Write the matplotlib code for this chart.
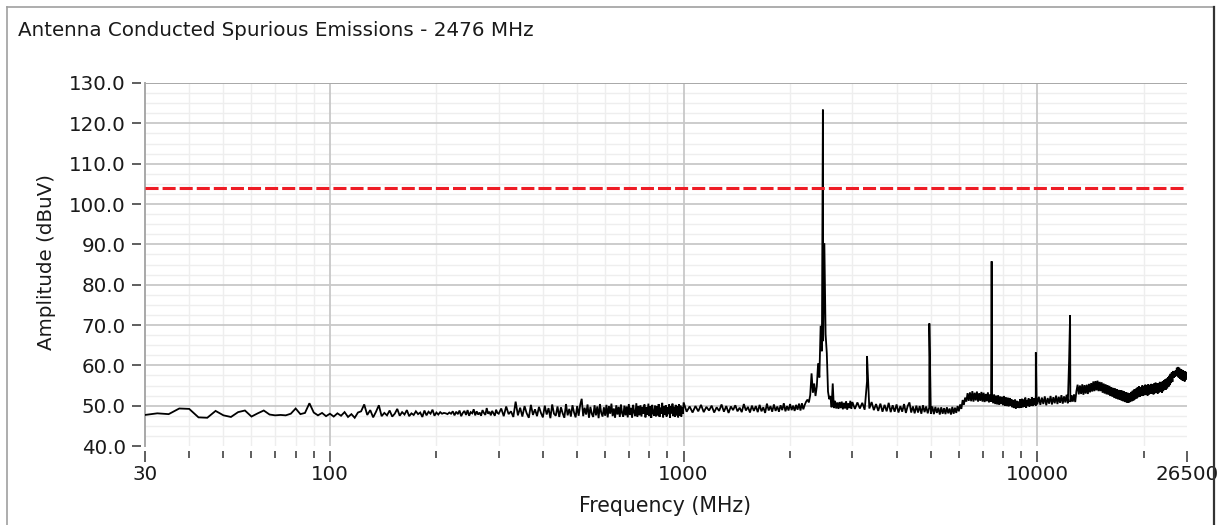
import numpy as np
import matplotlib
matplotlib.use("Agg")
import matplotlib.pyplot as plt
from matplotlib.lines import Line2D
from matplotlib.ticker import NullFormatter, NullLocator

# ---------------- text ----------------
title = "Antenna Conducted Spurious Emissions - 2476 MHz"
x_label = "Frequency (MHz)"
y_label = "Amplitude (dBuV)"
x_tick_values = [30, 100, 1000, 10000, 26500]
x_tick_labels = ["30", "100", "1000", "10000", "26500"]
y_tick_values = [40, 50, 60, 70, 80, 90, 100, 110, 120, 130]
y_tick_labels = ["40.0", "50.0", "60.0", "70.0", "80.0", "90.0", "100.0", "110.0", "120.0", "130.0"]

# limit line (dBuV)
limit_dbuv = 103.9

# ---------------- sweep data (dBuV) ----------------
# segment A1: 30 MHz upward, 2.5 MHz steps
seg_a1_start, seg_a1_step = 30.0, 2.5
amp_a1 = [
    47.7, 48.1, 47.9, 49.3, 49.2, 47.1, 47.0, 48.7, 47.6, 47.2,
    48.4, 48.8, 47.3, 48.1, 48.8, 47.8, 47.6, 47.7, 47.6, 48.0,
    49.3, 47.9, 48.2, 50.6, 48.3, 47.6, 48.2, 47.4, 48.0, 47.3,
    48.1, 47.5, 48.4, 47.2, 47.9, 47.0, 48.3, 48.6, 50.3, 47.7,
    48.9, 47.1, 48.5, 50.1, 47.4, 48.2, 47.6, 48.8, 47.3, 48.0,
    49.2, 47.5, 48.4, 47.8, 48.9, 47.4, 48.1, 47.7, 48.6, 47.9,
    48.3, 47.2, 48.8, 47.6, 48.5, 48.0, 49.0, 47.5, 48.3, 47.8,
    48.4, 48.0, 48.2, 48.1, 47.9, 48.3, 48.0, 48.6, 47.6, 48.5,
    47.9, 48.8, 47.4, 48.2, 48.7, 47.7, 48.9, 47.5, 48.4, 48.1,
    49.1, 47.6, 48.6, 47.8, 48.3, 47.5, 48.9, 48.2, 47.7, 49.4,
    48.0, 48.5, 47.6, 48.7, 48.1, 47.5, 49.0, 48.2,
]
# segment A2: 300 MHz upward, 5 MHz steps
seg_a2_start, seg_a2_step = 300.0, 5.0
amp_a2 = [
    48.0, 49.3, 47.4, 49.8, 47.9, 48.6, 47.2, 51.0, 47.6, 49.5,
    47.3, 49.9, 48.1, 47.0, 50.2, 47.7, 49.1, 47.4, 49.7, 48.2,
    47.1, 50.0, 47.8, 49.4, 46.9, 50.3, 48.0, 47.5, 49.8, 47.2,
    49.6, 48.1, 47.0, 50.4, 47.6, 49.2, 47.3, 50.1, 48.3, 47.1,
    49.9, 47.5, 50.2, 51.7, 47.4, 49.5, 47.8, 50.3, 47.0, 49.7,
    48.0, 47.2, 50.1, 47.6, 49.8, 46.9, 50.4, 48.2, 47.3, 49.6,
    47.5, 50.2, 47.1, 49.9, 48.0, 50.5, 47.4, 49.3, 47.0, 50.1,
    47.8, 49.7, 47.2, 50.3, 48.1, 47.3, 50.0, 47.6, 49.8, 47.1,
    50.4, 47.7, 49.5, 47.0, 50.2, 48.3, 47.4, 50.6, 47.2, 49.9,
    47.6, 50.1, 47.3, 49.7, 48.0, 50.3, 47.1, 49.6, 47.8, 50.5,
    47.4, 49.8, 47.0, 50.2, 48.2, 47.5, 50.0, 47.3, 49.9, 47.6,
    50.4, 47.2, 49.5, 48.0, 50.7, 47.1, 49.8, 47.7, 50.1, 47.3,
    49.6, 47.9, 50.3, 47.0, 49.9, 48.1, 50.5, 47.4, 49.7, 47.2,
    50.2, 47.6, 49.8, 47.1, 50.4, 47.5, 50.0, 47.3, 49.6, 48.0,
]
# segment B1: 1000 MHz upward, 20 MHz steps
seg_b1_start, seg_b1_step = 1000.0, 20.0
amp_b1 = [
    50.8, 48.5, 49.8, 48.3, 49.9, 48.6, 50.2, 48.4, 49.7, 48.8,
    50.0, 48.3, 49.6, 48.7, 50.3, 48.5, 49.9, 48.2, 49.8, 48.9,
    50.1, 48.6, 49.5, 48.4, 50.4, 48.8, 49.7, 48.3, 50.0, 48.7,
    49.9, 48.4, 50.2, 48.6, 49.6, 48.2, 50.5, 48.8, 49.9, 48.5,
    50.3, 48.7, 49.8, 48.5, 50.1, 48.9, 50.6, 48.6, 49.9, 48.8,
    50.4, 48.9, 50.0, 48.7, 50.2, 49.0, 50.5, 48.8, 50.6, 49.1,
    50.2, 51.0, 51.5, 50.8, 52.6, 58.0, 53.2, 55.5, 52.4, 54.8,
    60.5, 57.0, 69.8, 63.5, 66.0, 90.3, 67.7, 63.0, 53.5, 51.6,
    52.4, 49.6, 55.5, 49.4, 51.2, 49.3, 50.8, 49.2, 50.9, 49.4,
    51.0, 49.1, 50.7, 49.3, 51.1, 49.0, 50.6, 49.4, 51.2, 49.2,
]
# segment B2: 3000 MHz upward, 50 MHz steps
seg_b2_start, seg_b2_step = 3000.0, 50.0
amp_b2 = [
    50.9, 49.2, 50.8, 49.3, 50.7, 49.0, 56.0, 49.3, 50.9, 48.9,
    50.4, 48.7, 50.5, 48.5, 50.2, 48.6, 50.7, 48.4, 50.1, 48.5,
    50.3, 48.3, 49.9, 48.5, 50.4, 48.2, 49.9, 50.8, 48.3, 49.8,
    48.1, 50.0, 48.3, 49.9, 48.0, 50.1, 48.4, 49.8, 48.1, 49.6,
    48.0, 49.8, 47.9, 49.7, 48.2, 49.5, 47.8, 49.6, 48.0, 49.4,
    47.9, 49.6, 48.1, 49.3, 47.8, 49.7, 48.0, 49.5, 48.2, 49.9,
    48.6, 50.3, 49.2, 51.4, 50.2, 52.0, 51.0, 53.1, 51.2, 53.3,
    51.1, 53.6, 51.0, 53.2, 51.3, 53.5, 51.0, 53.1, 51.2, 53.4,
    51.0, 53.2, 50.9, 52.9, 51.1, 53.3, 50.8, 52.8, 51.0, 52.7,
    50.6, 52.8, 50.4, 52.5, 50.3, 52.6, 50.2, 52.3, 50.4, 52.2,
    50.1, 52.4, 50.0, 52.1, 49.9, 52.0, 49.8, 51.9, 50.0, 51.6,
    49.6, 51.4, 49.4, 51.5, 49.3, 51.2, 49.5, 51.0, 49.4, 51.6,
    49.5, 51.7, 49.6, 51.5, 49.7, 52.0, 49.5, 51.4, 49.9, 51.8,
    49.8, 51.6, 50.0, 52.1, 49.9, 51.8, 50.2, 51.9, 50.0, 52.0,
]
# segment B3: 10000 MHz upward, 100 MHz steps
seg_b3_start, seg_b3_step = 10000.0, 100.0
amp_b3 = [
    50.3, 52.2, 50.2, 52.0, 50.4, 52.3, 50.1, 51.9, 50.5, 52.4,
    50.3, 52.1, 50.6, 52.5, 50.4, 52.2, 50.7, 52.6, 50.5, 52.3,
    50.8, 52.7, 50.6, 61.3, 50.9, 52.6, 51.0, 52.8, 50.9, 53.6,
    55.2, 52.8, 55.0, 52.9, 55.3, 52.7, 55.1, 53.0, 55.2, 52.9,
    55.4, 53.3, 55.6, 53.5, 56.0, 53.6, 56.1, 53.8, 56.2, 53.6,
    55.9, 53.6, 55.8, 53.2, 55.5, 53.0, 55.3, 52.8, 55.1, 52.7,
    54.9, 52.4, 54.6, 52.2, 54.4, 51.9, 54.3, 51.8, 54.1, 51.6,
    53.9, 51.5, 53.8, 51.3, 53.7, 51.1, 53.5, 50.9, 53.3, 50.8,
    53.2, 50.7, 53.1, 50.9, 53.4, 51.1, 53.7, 51.3, 54.0, 51.6,
    54.2, 51.8, 54.5, 52.1, 54.8, 52.2, 54.6, 52.4, 55.0, 52.5,
    54.9, 52.6, 55.2, 52.7, 55.0, 52.5, 55.3, 52.8, 55.1, 52.9,
    55.4, 53.0, 55.2, 52.8, 55.5, 53.1, 55.7, 53.2, 55.4, 53.0,
    55.6, 53.3, 55.9, 53.4, 55.7, 53.2, 56.0, 53.6, 56.3, 53.9,
    56.5, 54.0, 56.7, 54.3, 57.0, 54.7, 57.4, 55.1, 57.9, 55.6,
    58.3, 55.9, 58.6, 56.9, 58.4, 57.2, 58.7, 57.5, 59.4, 57.3,
    59.6, 57.0, 59.4, 56.7, 59.1, 56.5, 58.9, 56.3, 58.8, 56.2,
    58.6, 56.0, 58.5, 56.9, 58.3, 56.6,
]
# discrete spurious emissions (carrier and harmonics)
spur_freq = [2476.0, 3301.0, 4952.0, 7428.0, 9904.0, 12380.0]
spur_amp = [123.4, 62.3, 70.4, 85.8, 63.2, 72.4]

# ---------------- assemble trace ----------------
segments = [
    (seg_a1_start, seg_a1_step, amp_a1),
    (seg_a2_start, seg_a2_step, amp_a2),
    (seg_b1_start, seg_b1_step, amp_b1),
    (seg_b2_start, seg_b2_step, amp_b2),
    (seg_b3_start, seg_b3_step, amp_b3),
]
freqs, amps = [], []
for start, step, vals in segments:
    freqs.append(start + step * np.arange(len(vals)))
    amps.append(np.asarray(vals, dtype=float))
freqs.append(np.asarray(spur_freq))
amps.append(np.asarray(spur_amp))
freq = np.concatenate(freqs)
amp = np.concatenate(amps)
order = np.argsort(freq, kind="stable")
freq, amp = freq[order], amp[order]

# ---------------- figure ----------------
plt.rcParams["font.family"] = ["DejaVu Sans"]
plt.rcParams["lines.scale_dashes"] = False
W, H = 1219, 525
fig = plt.figure(figsize=(W / 100, H / 100), dpi=100)
fig.patch.set_facecolor("white")
L, R, T, B = 145, 1187, 83, 446
ax = fig.add_axes([L / W, 1 - B / H, (R - L) / W, (B - T) / H])
ax.set_xscale("log")
ax.set_xlim(30, 26500)
ax.set_ylim(40, 130)

for s in ["top", "right", "left", "bottom"]:
    ax.spines[s].set_visible(False)
ax.spines["left"].set_position(("outward", 2.9))
ax.spines["bottom"].set_position(("outward", 3.6))

# grid lines
minor_x = [m * 10 ** e for e in (1, 2, 3) for m in range(2, 10) if m * 10 ** e > 30] + [20000]
for v in minor_x:
    ax.axvline(v, color="#eeeeee", lw=1.0, zorder=0)
for v in np.arange(42.5, 130, 2.5):
    if v % 10:
        ax.axhline(v, color="#eeeeee", lw=1.0, zorder=0)
for v in [100, 1000, 10000]:
    ax.axvline(v, color="#c8c8c8", lw=1.3, zorder=1)
for v in y_tick_values[1:-1]:
    ax.axhline(v, color="#c8c8c8", lw=1.3, zorder=1)
ax.axhline(130, color="#a8a8a8", lw=1.4, zorder=1)
ax.axvline(30, color="#a8a8a8", lw=1.4, zorder=1, clip_on=False)

# ticks
fs = 14.3
ax.set_xticks(x_tick_values)
ax.set_xticklabels(x_tick_labels)
ax.set_xticks(minor_x, minor=True)
ax.xaxis.set_minor_formatter(NullFormatter())
ax.set_yticks(y_tick_values)
ax.set_yticklabels(y_tick_labels)
ax.yaxis.set_minor_locator(NullLocator())
ax.tick_params(axis="x", which="major", direction="out", length=7.9, width=1.1,
               color="#333333", pad=2.5, labelsize=fs, labelcolor="#1a1a1a")
ax.tick_params(axis="x", which="minor", direction="out", length=4.8, width=1.1,
               color="#333333")
ax.tick_params(axis="y", which="major", direction="out", length=6.8, width=1.1,
               color="#333333", pad=4, labelsize=fs, labelcolor="#1a1a1a")

# data
ax.plot(freq, amp, color="black", lw=1.3, zorder=3, solid_joinstyle="miter")
ax.axhline(limit_dbuv, color="#ee1c25", lw=2.2, dashes=(9.4, 2.9), zorder=4)

# text
fig.text(18 / W, 1 - 30 / H, title, ha="left", va="center", fontsize=fs, color="#1a1a1a")
fig.text(665 / W, 1 - 506 / H, x_label, ha="center", va="center", fontsize=14.8, color="#1a1a1a")
fig.text(47 / W, 1 - 262 / H, y_label, ha="center", va="center", rotation=90,
         fontsize=fs, color="#1a1a1a")

# outer frame
fig.add_artist(Line2D([7 / W, 7 / W], [0, 1 - 7 / H], transform=fig.transFigure,
                      color="#a0a0a0", lw=1.2))
fig.add_artist(Line2D([7 / W, 1214 / W], [1 - 7 / H, 1 - 7 / H], transform=fig.transFigure,
                      color="#a0a0a0", lw=1.2))
fig.add_artist(Line2D([1214 / W, 1214 / W], [0, 1 - 7 / H], transform=fig.transFigure,
                      color="#333333", lw=1.6))

fig.savefig("out.png", dpi=100, facecolor="white")
